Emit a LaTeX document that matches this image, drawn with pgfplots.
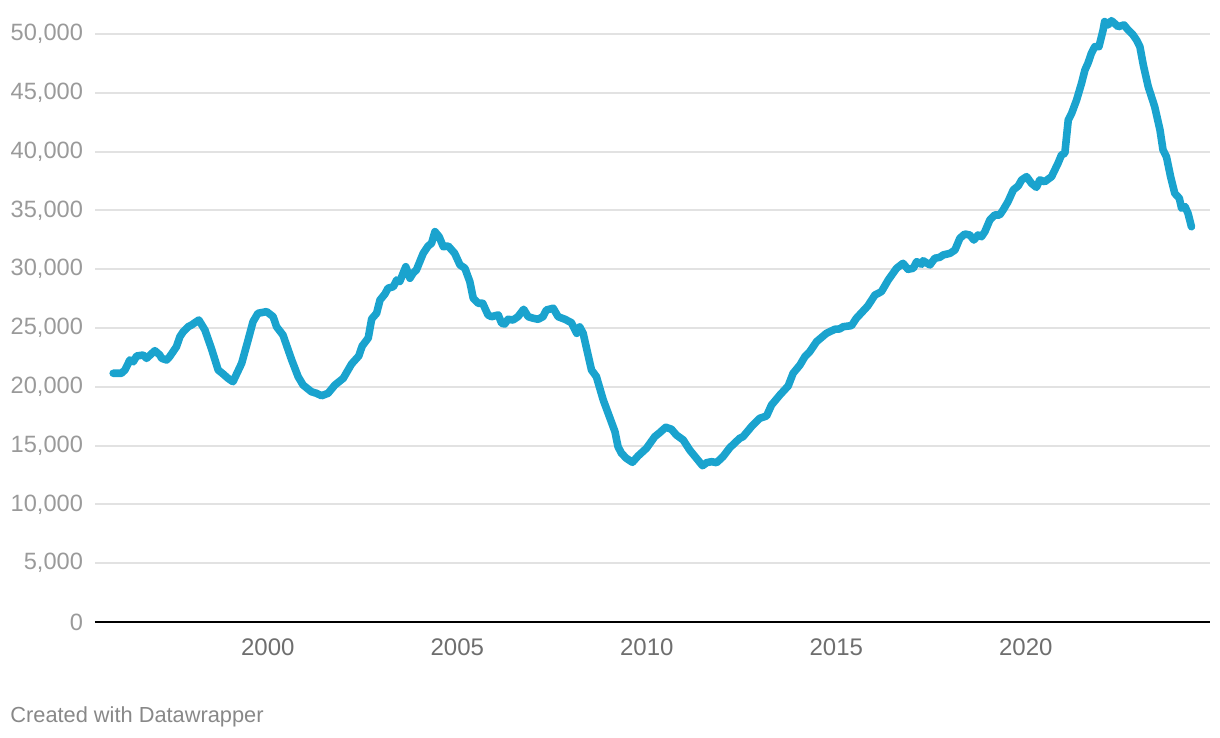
\documentclass[border=0pt]{standalone}
\usepackage{fontspec}
\setmainfont{Liberation Sans}
\usepackage{pgfplots}
\pgfplotsset{compat=1.18}
\definecolor{lineblue}{HTML}{1AA3CE}
\definecolor{gridgray}{HTML}{E2E2E2}
\definecolor{ylabgray}{HTML}{9A9A9A}
\definecolor{xlabgray}{HTML}{6E6E6E}
\definecolor{creditgray}{HTML}{888888}
\begin{document}
\begin{tikzpicture}
\begin{axis}[
  at={(0,0)}, anchor=south west,
  scale only axis, width=557.5pt, height=311pt,
  xmin=1995.44, xmax=2024.86, ymin=0, ymax=52890,
  axis line style={draw=none},
  major tick length=0pt,
  scaled y ticks=false, scaled x ticks=false,
  ytick={0,5000,10000,15000,20000,25000,30000,35000,40000,45000,50000},
  xtick={2000,2005,2010,2015,2020},
  ymajorgrids, major grid style={color=gridgray, line width=1pt},
  /pgf/number format/assume math mode=true,
  yticklabel style={text=ylabgray, font=\fontsize{11.8}{14}\selectfont, /pgf/number format/1000 sep={,}, xshift=-2.5pt},
  xticklabel style={text=xlabgray, font=\fontsize{12}{14}\selectfont, /pgf/number format/1000 sep={}, yshift=-5pt},
  clip=false,
]
\draw[black, line width=1pt] (axis cs:1995.44,0) -- (axis cs:2024.86,0);
\addplot[color=lineblue, line width=3.8pt, line join=round, line cap=round] coordinates {
(1995.92,21150) (1996.14,21150) (1996.23,21430) (1996.36,22280) (1996.45,22130)
(1996.54,22620) (1996.71,22700) (1996.80,22420) (1997.02,23070) (1997.15,22700)
(1997.20,22420) (1997.33,22280) (1997.41,22560) (1997.59,23410) (1997.68,24260)
(1997.77,24690) (1997.90,25110) (1997.99,25260) (1998.18,25680) (1998.34,24830)
(1998.51,23270) (1998.69,21430) (1998.82,21090) (1998.95,20720) (1999.08,20430)
(1999.31,22000) (1999.48,23980) (1999.61,25540) (1999.74,26250) (1999.97,26390)
(2000.14,25960) (2000.23,25110) (2000.40,24400) (2000.63,22280) (2000.80,20860)
(2000.93,20150) (2001.15,19580) (2001.28,19450) (2001.42,19240) (2001.59,19450)
(2001.77,20150) (2001.99,20720) (2002.21,21940) (2002.40,22620) (2002.49,23470)
(2002.65,24150) (2002.74,25770) (2002.87,26250) (2002.96,27380) (2003.09,27890)
(2003.17,28380) (2003.31,28510) (2003.40,29080) (2003.48,28940) (2003.64,30210)
(2003.75,29230) (2003.83,29650) (2003.92,29930) (2004.10,31350) (2004.23,31970)
(2004.32,32200) (2004.41,33190) (2004.52,32760) (2004.63,31910) (2004.76,31970)
(2004.93,31350) (2005.07,30360) (2005.20,30080) (2005.33,28940) (2005.42,27530)
(2005.55,27100) (2005.67,27100) (2005.81,26110) (2005.90,25960) (2006.08,26110)
(2006.17,25400) (2006.25,25340) (2006.34,25740) (2006.47,25680) (2006.60,25960)
(2006.75,26590) (2006.87,25960) (2007.00,25830) (2007.13,25740) (2007.26,25960)
(2007.35,26530) (2007.53,26680) (2007.66,25960) (2007.84,25740) (2008.01,25450)
(2008.15,24550) (2008.23,25090) (2008.32,24550) (2008.41,23270) (2008.54,21430)
(2008.67,20860) (2008.85,18880) (2008.98,17750) (2009.16,16180) (2009.24,14910)
(2009.33,14350) (2009.46,13920) (2009.62,13580) (2009.77,14120) (2009.99,14770)
(2010.21,15760) (2010.34,16100) (2010.50,16560) (2010.65,16390) (2010.78,15900)
(2010.96,15480) (2011.13,14630) (2011.31,13920) (2011.47,13290) (2011.58,13550)
(2011.71,13630) (2011.84,13550) (2012.01,14060) (2012.19,14820) (2012.45,15620)
(2012.54,15760) (2012.76,16610) (2012.98,17320) (2013.16,17520) (2013.29,18450)
(2013.51,19300) (2013.73,20070) (2013.86,21150) (2014.04,21850) (2014.17,22560)
(2014.30,22990) (2014.48,23840) (2014.74,24550) (2014.96,24890) (2015.09,24920)
(2015.18,25110) (2015.40,25200) (2015.53,25830) (2015.83,26870) (2016.02,27810)
(2016.19,28090) (2016.37,29080) (2016.59,30080) (2016.76,30500) (2016.89,29990)
(2017.03,30080) (2017.12,30640) (2017.25,30420) (2017.29,30720) (2017.47,30360)
(2017.60,30930) (2017.73,31010) (2017.82,31210) (2018.00,31350) (2018.13,31630)
(2018.26,32630) (2018.39,32990) (2018.52,32910) (2018.63,32480) (2018.74,32910)
(2018.83,32760) (2018.92,33190) (2019.05,34180) (2019.18,34610) (2019.31,34610)
(2019.40,35030) (2019.53,35740) (2019.67,36740) (2019.80,37080) (2019.89,37590)
(2020.02,37870) (2020.15,37300) (2020.28,36960) (2020.37,37590) (2020.50,37440)
(2020.68,37870) (2020.85,39010) (2020.94,39710) (2021.03,39860) (2021.12,42690)
(2021.21,43260) (2021.34,44390) (2021.47,45810) (2021.56,46940) (2021.64,47510)
(2021.73,48360) (2021.82,48920) (2021.93,48920) (2022.04,50340) (2022.08,51050)
(2022.17,50770) (2022.26,51130) (2022.44,50620) (2022.59,50770) (2022.70,50340)
(2022.83,49920) (2022.92,49490) (2023.01,48920) (2023.10,47360) (2023.23,45520)
(2023.40,43820) (2023.54,41840) (2023.62,40140) (2023.71,39570) (2023.82,37870)
(2023.93,36450) (2024.05,36030) (2024.11,35180) (2024.20,35320) (2024.28,34750)
(2024.37,33610)
};
\end{axis}
\node[anchor=base west, inner sep=0pt, text=creditgray, font=\fontsize{10.9}{12}\selectfont] at (-42.5pt,-50pt) {Created with Datawrapper};
\pgfresetboundingbox
\path[use as bounding box] (-47.5pt,-58pt) rectangle (562.5pt,311pt);
\end{tikzpicture}
\end{document}
